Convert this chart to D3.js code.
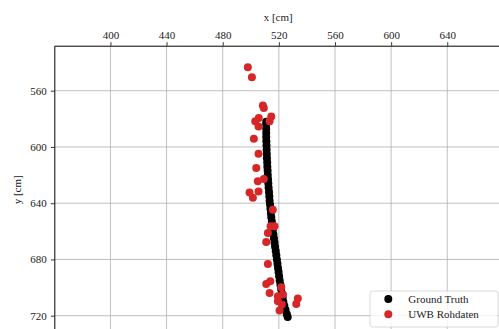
<!DOCTYPE html>
<html>
<head>
<meta charset="utf-8">
<script src="https://cdn.jsdelivr.net/npm/d3@7"></script>
<style>
  body { margin: 0; background: #fff; }
  svg { display: block; }
  text { font-family: "Liberation Serif", "DejaVu Serif", serif; }
</style>
</head>
<body>
<svg width="499" height="329"></svg>
<script>
// tick values
var xTicks = [400, 440, 480, 520, 560, 600, 640];
var yTicks = [560, 600, 640, 680, 720];

// ground truth track [x, y] in cm
var gtX = [511.0, 511.0, 511.0, 511.0, 511.0, 511.1, 511.2, 511.3, 511.4, 511.5,
  511.7, 511.8, 512.0, 512.1, 512.3, 512.5, 512.7, 513.0, 513.2, 513.4,
  513.7, 514.0, 514.3, 514.6, 515.0, 515.3, 515.7, 516.1, 516.5, 516.9,
  517.3, 517.8, 518.2, 518.6, 519.0, 519.4, 519.8, 520.2, 520.6, 521.1,
  521.6, 522.1, 522.7, 523.2, 523.9, 524.8, 525.7, 526.3];
var gtY = [582, 584, 587, 590, 593, 596, 599, 602, 605, 608,
  611, 614, 617, 620, 623, 626, 629, 632, 635, 638,
  641, 644, 647, 650, 653, 656, 659, 662, 665, 668,
  671, 674, 677, 680, 683, 686, 689, 692, 695, 698,
  701, 704, 707, 710, 713, 716, 719, 721];

// raw UWB measurements
var uwbX = [497.9, 500.8, 508.6, 509.3, 514.6, 513.4, 505.7, 503.2, 505.5, 502.2,
  505.5, 503.9, 505.0, 509.3, 499.1, 501.5, 505.5, 515.7, 514.1, 516.9,
  512.2, 511.0, 512.2, 511.0, 513.9, 513.4, 521.7, 522.9, 519.3, 522.1,
  520.5, 533.5, 532.4, 519.3];
var uwbY = [543.4, 550.5, 570.6, 572.3, 578.3, 581.8, 579.4, 581.8, 585.4, 594.1,
  604.8, 614.9, 624.4, 622.7, 632.3, 636.2, 631.6, 644.6, 656.4, 656.4,
  661.1, 667.5, 683.2, 697.4, 695.5, 703.8, 699.8, 705.0, 709.7, 712.1,
  716.3, 707.8, 711.6, 706.2];

var labels = ["Ground Truth", "UWB Rohdaten"];
var colors = ["#000000", "#d62728"];

var svg = d3.select("svg"),
  mLeft = 54.3, mTop = 45.7, mRight = 502, mBottom = 334;

var x = d3.scaleLinear().domain([360, 679]).range([mLeft, mRight]);
var y = d3.scaleLinear().domain([528, 733]).range([mTop, mBottom]);

// grid
svg.append("g").selectAll("line").data(xTicks).enter().append("line")
  .attr("x1", function (d) { return x(d); }).attr("x2", function (d) { return x(d); })
  .attr("y1", mTop).attr("y2", mBottom)
  .attr("stroke", "#b0b0b0").attr("stroke-width", 0.8);
svg.append("g").selectAll("line").data(yTicks).enter().append("line")
  .attr("y1", function (d) { return y(d); }).attr("y2", function (d) { return y(d); })
  .attr("x1", mLeft).attr("x2", mRight)
  .attr("stroke", "#b0b0b0").attr("stroke-width", 0.8);

// axes
var gx = svg.append("g")
  .attr("transform", "translate(0," + mTop + ")")
  .call(d3.axisTop(x).tickValues(xTicks).tickSize(3.5).tickSizeOuter(0).tickPadding(3));
var gy = svg.append("g")
  .attr("transform", "translate(" + mLeft + ",0)")
  .call(d3.axisLeft(y).tickValues(yTicks).tickSize(3.5).tickSizeOuter(0).tickPadding(4));
[gx, gy].forEach(function (g) {
  g.selectAll("text").attr("font-family", "Liberation Serif, serif").attr("font-size", 11).attr("fill", "#222");
  g.selectAll("line").attr("stroke-width", 0.8);
  g.select(".domain").attr("stroke-width", 1);
});

svg.append("text")
  .attr("x", (mLeft + mRight) / 2).attr("y", 21)
  .attr("text-anchor", "middle").attr("font-size", 11).attr("fill", "#222")
  .text("x [cm]");
svg.append("text")
  .attr("transform", "translate(21," + ((mTop + mBottom) / 2) + ") rotate(-90)")
  .attr("text-anchor", "middle").attr("font-size", 11).attr("fill", "#222")
  .text("y [cm]");

// points
svg.append("g").selectAll("circle").data(d3.range(gtX.length)).enter().append("circle")
  .attr("cx", function (i) { return x(gtX[i]); })
  .attr("cy", function (i) { return y(gtY[i]); })
  .attr("r", 4).attr("fill", colors[0]);
svg.append("g").selectAll("circle").data(d3.range(uwbX.length)).enter().append("circle")
  .attr("cx", function (i) { return x(uwbX[i]); })
  .attr("cy", function (i) { return y(uwbY[i]); })
  .attr("r", 4).attr("fill", colors[1]);

// legend
var lg = svg.append("g").attr("transform", "translate(370,291)");
lg.append("rect").attr("width", 128).attr("height", 36).attr("rx", 2.5)
  .attr("fill", "#fff").attr("fill-opacity", 0.8).attr("stroke", "#d0d0d0").attr("stroke-width", 0.8);
labels.forEach(function (t, i) {
  lg.append("circle").attr("cx", 18.3).attr("cy", 8 + i * 15.3).attr("r", 4).attr("fill", colors[i]);
  lg.append("text").attr("x", 38.3).attr("y", 8 + i * 15.3).attr("dy", "0.35em")
    .attr("font-size", 11).attr("fill", "#222").text(t);
});
</script>
</body>
</html>
